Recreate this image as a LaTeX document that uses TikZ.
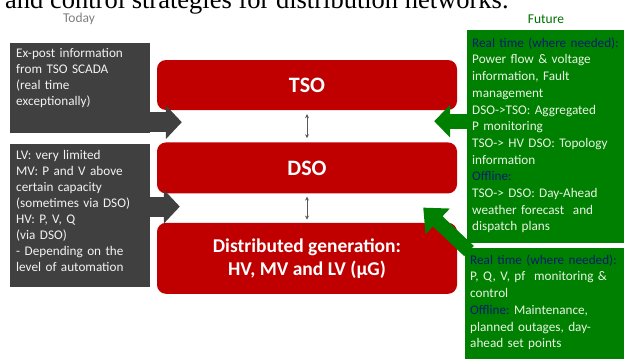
\documentclass[tikz,border=0pt]{standalone}
\usepackage{fontspec}
\setmainfont{Carlito}
\newfontfamily\titlefont{Liberation Serif}
\usetikzlibrary{arrows.meta, positioning}
\definecolor{tsored}{RGB}{192,0,0}
\definecolor{boxgray}{RGB}{64,64,64}
\definecolor{futgreen}{RGB}{0,128,0}
\definecolor{hdblue}{RGB}{12,28,112}
\definecolor{paletext}{RGB}{232,245,228}
\definecolor{labelgray}{RGB}{128,128,128}
\definecolor{labelgreen}{RGB}{0,112,0}
\definecolor{linkgray}{RGB}{89,89,89}
\frenchspacing

\begin{document}
\begin{tikzpicture}[
  x=1pt, y=-1pt,
  layerbox/.style={
    fill=tsored,
    rounded corners=9pt,
    text=white,
    font=\bfseries\fontsize{22}{26}\selectfont,
    minimum width=300pt,
    inner sep=0pt
    },
  infobox/.style={
    anchor=north west,
    inner ysep=0pt,
    align=left
    },
  todaybox/.style={
    infobox,
    fill=boxgray,
    text=white!95!black,
    inner xsep=6pt,
    text width=#1,
    font=\fontsize{13.2}{16}\selectfont
    },
  futurebox/.style={
    infobox,
    fill=futgreen,
    text=paletext,
    inner xsep=5pt,
    text width=#1,
    font=\fontsize{13.2}{16.7}\selectfont
    },
  inflow/.style={
    draw=boxgray,
    line width=20pt,
    -{Triangle[length=16pt,width=33pt]}
    },
  outflow/.style={
    draw=futgreen,
    line width=15pt,
    -{Triangle[length=16pt,width=32pt]}
    },
  linkarrow/.style={
    draw=linkgray,
    line width=0.8pt,
    {Stealth[length=4pt,width=4pt]}-{Stealth[length=4pt,width=4pt]}
    }
]

\path[use as bounding box, fill=white] (0,0) rectangle (624,359);

\node[anchor=base west, inner sep=0pt, font=\titlefont\fontsize{26.5}{30}\selectfont]
  (title) at (5,8) {and control strategies for distribution networks.};

\node[text=labelgray, font=\fontsize{13.5}{15}\selectfont] (today) at (79,19) {Today};
\node[text=labelgreen, font=\fontsize{13.5}{15}\selectfont] (future) at (546,19) {Future};

\node[layerbox, minimum height=50pt] (tso) at (307,85) {TSO};
\node[layerbox, minimum height=51pt, below=32pt of tso] (dso) {DSO};
\node[layerbox, minimum height=71pt, below=29pt of dso, align=center,
  font=\bfseries\fontsize{19.5}{23}\selectfont] (dg)
  {Distributed generation:\\HV, MV and LV (µG)};

\node[todaybox=128pt, text height=14pt, text depth=76pt] (now1) at (10,43)
  {Ex-post information\\
   from TSO SCADA\\
   (real time\\
   exceptionally)};

\node[todaybox=128pt, text height=16pt, text depth=127pt, below=10pt of now1] (now2)
  {LV: very limited\\
   MV: P and V above\\
   certain capacity\\
   (sometimes via DSO)\\
   HV: P, V, Q\\
   (via DSO)\\
   - Depending on the\\
   level of automation};

\node[futurebox=150pt, text height=17pt, text depth=196pt] (fut1) at (467,30)
  {\textcolor{hdblue}{Real time (where needed):}\\
   Power flow \& voltage\\
   information, Fault\\
   management\\
   DSO->TSO: Aggregated\\
   P monitoring\\
   TSO-> HV DSO: Topology\\
   information\\
   \textcolor{hdblue}{Offline:}\\
   TSO-> DSO: Day-Ahead\\
   weather forecast\ \ and\\
   dispatch plans};

\node[futurebox=152pt, text height=16pt, text depth=95pt] (fut2) at (465,248)
  {\textcolor{hdblue}{Real time (where needed):}\\
   P, Q, V, pf\ \ monitoring \&\\
   control\\
   \textcolor{hdblue}{Offline:} Maintenance,\\
   planned outages, day-\\
   ahead set points};

\coordinate (tip1) at ([xshift=25pt, yshift=-12pt]tso.south west);
\coordinate (tip2) at ([xshift=23pt, yshift=-13pt]dso.south west);
\coordinate (tip3) at ([xshift=-23pt, yshift=-11pt]tso.south east);
\coordinate (tip4) at ([xshift=-34pt, yshift=-14pt]dso.south east);

\draw[inflow] (now1.east |- tip1) -- (tip1);
\draw[inflow] (now2.east |- tip2) -- (tip2);
\draw[outflow] (fut1.west |- tip3) -- (tip3);
\draw[outflow, line width=14pt, -{Triangle[length=20pt,width=34pt]}]
  ([xshift=4pt, yshift=-3pt]fut2.north west) -- (tip4);

\draw[linkarrow] ([yshift=-4pt]tso.south) -- ([yshift=4pt]dso.north);
\draw[linkarrow] ([yshift=-3pt]dso.south) -- ([yshift=3pt]dg.north);

\end{tikzpicture}
\end{document}
